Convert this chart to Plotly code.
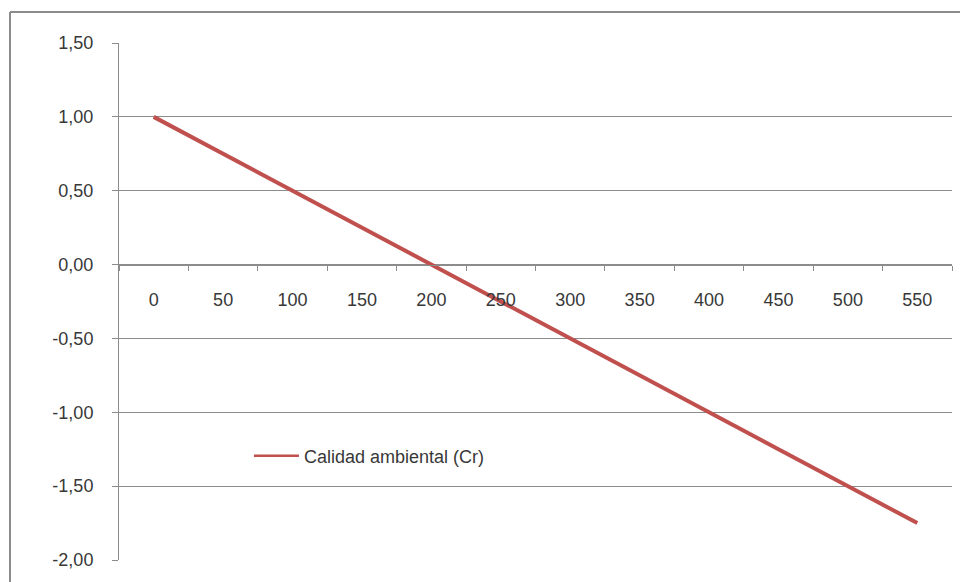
import plotly.graph_objects as go

categories = ["0", "50", "100", "150", "200", "250", "300", "350", "400", "450", "500", "550"]
values = [1.00, 0.75, 0.50, 0.25, 0.00, -0.25, -0.50, -0.75, -1.00, -1.25, -1.50, -1.75]
y_ticks = [1.5, 1.0, 0.5, 0.0, -0.5, -1.0, -1.5, -2.0]
y_tick_labels = ["1,50", "1,00", "0,50", "0,00", "-0,50", "-1,00", "-1,50", "-2,00"]
series_name = "Calidad ambiental (Cr)"

y_min, y_max = -2.0, 1.5
font = dict(family="Liberation Sans, Arial, sans-serif", size=18, color="#383838")
line_color = "#C0504D"

fig = go.Figure()
fig.add_trace(go.Scatter(
    x=categories, y=values, mode="lines", name=series_name,
    line=dict(color=line_color, width=4), showlegend=False,
))
# legend entry with a thinner sample line, as in the reference
fig.add_trace(go.Scatter(
    x=[None], y=[None], mode="lines", name=series_name,
    line=dict(color=line_color, width=2.5), showlegend=True,
))

fig.update_layout(
    width=960, height=582,
    margin=dict(l=119, r=8, t=43, b=22),
    paper_bgcolor="white", plot_bgcolor="white",
    font=font,
    showlegend=True,
    legend=dict(
        x=0.156, y=0.201, xanchor="left", yanchor="middle",
        bgcolor="rgba(0,0,0,0)", font=font,
        itemwidth=45,
    ),
    xaxis=dict(
        type="category", range=[-0.5, len(categories) - 0.5],
        anchor="free", position=(0 - y_min) / (y_max - y_min),
        showline=True, linecolor="#8c8c8c", linewidth=1,
        ticks="outside", tickson="boundaries", ticklen=5, tickcolor="#8c8c8c",
        showgrid=False, zeroline=False,
        ticklabelstandoff=19,
        tickfont=font,
    ),
    yaxis=dict(
        range=[y_min, y_max], tickvals=y_ticks, ticktext=y_tick_labels,
        showline=True, linecolor="#8c8c8c", linewidth=1,
        ticks="outside", ticklen=6, tickcolor="#8c8c8c",
        showgrid=True, gridcolor="#8c8c8c", gridwidth=1,
        zeroline=False, tickfont=font, ticklabelstandoff=15,
    ),
    shapes=[
        dict(type="line", xref="paper", yref="paper",
             x0=(10 - 119) / 833, x1=(962 - 119) / 833,
             y0=(582 - 22 - 12) / 517, y1=(582 - 22 - 12) / 517,
             line=dict(color="#8c8c8c", width=2)),
        dict(type="line", xref="paper", yref="paper",
             x0=(10 - 119) / 833, x1=(10 - 119) / 833,
             y0=(582 - 22 - 12) / 517, y1=-0.1,
             line=dict(color="#8c8c8c", width=2)),
    ],
)

fig.write_html("out.html")
